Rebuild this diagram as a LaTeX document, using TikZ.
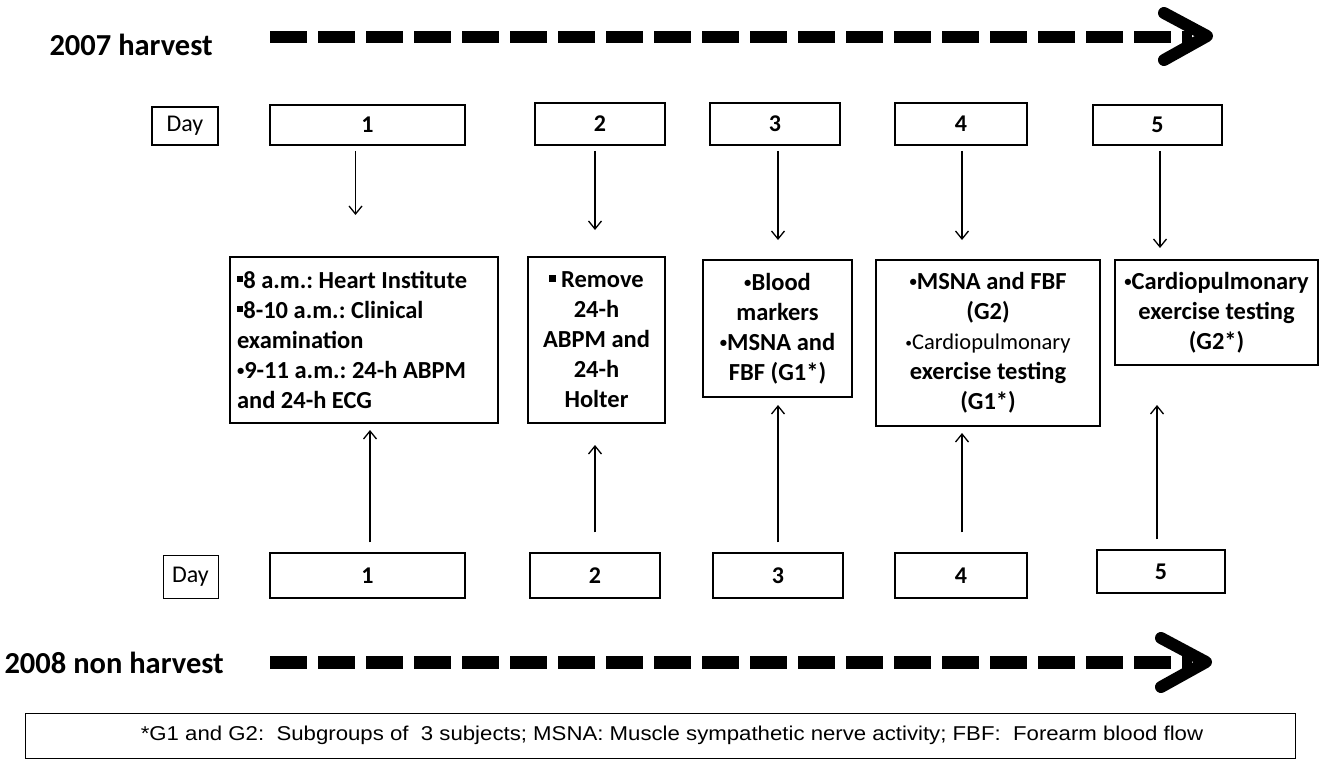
\documentclass[tikz,border=0pt]{standalone}
\usepackage{fontspec}
\setmainfont{Carlito}
\newfontfamily\arialf{Liberation Sans}
\usetikzlibrary{arrows.meta}
\newcommand{\sqb}{\raisebox{0.25em}{\rule{0.26em}{0.26em}}}
\newcommand{\bul}{\raisebox{0.12em}{\scalebox{0.6}{•}}}
\begin{document}
\frenchspacing
\begin{tikzpicture}[x=1pt,y=-1pt,
  daybox/.style={draw,line width=1.5pt,inner sep=0pt,font=\fontsize{24}{26}\selectfont\bfseries},
  cbox/.style={draw,line width=1.6pt,inner sep=6pt,align=center,font=\fontsize{24.5}{30}\selectfont\bfseries},
  arr/.style={line width=1.3pt,-{Straight Barb[length=8pt,width=13pt,line width=1.3pt]}},
  bigdash/.style={line width=12pt,dash pattern=on 37pt off 11pt},
  chev/.style={line width=12pt,line cap=round,line join=round},
  yearlbl/.style={font=\fontsize{30.5}{32}\selectfont\bfseries,anchor=west}]
\useasboundingbox (0,0) rectangle (1324,768);
% year labels and timelines
\node[yearlbl] (y07) at (46,45) {2007 harvest};
\node[yearlbl] (y08) at (1,663) {2008 non harvest};
\coordinate (ts) at (270,37);
\coordinate (te) at (1192,37);
\draw[bigdash] (ts) -- (te);
\draw[chev] (1164,13) -- (1207,36) -- (1164,60);
\coordinate (bs) at (270,662);
\coordinate (be) at (1192,662);
\draw[bigdash,line width=13pt] (bs) -- (be);
\draw[chev] (1161,638) -- (1206,662) -- (1161,687);
% top day boxes
\node[daybox,font=\fontsize{24}{26}\selectfont,minimum width=66pt,minimum height=38pt] (tday) at (185,126) {Day};
\node[daybox,minimum width=195pt,minimum height=40pt] (t1) at (367.5,125) {1};
\node[daybox,minimum width=130pt,minimum height=42pt] (t2) at (600,124) {2};
\node[daybox,minimum width=130pt,minimum height=42pt] (t3) at (775,124) {3};
\node[daybox,minimum width=132pt,minimum height=42pt] (t4) at (961,124) {4};
\node[daybox,minimum width=129pt,minimum height=40pt] (t5) at (1157.5,125) {5};
% bottom day boxes
\node[daybox,line width=1pt,font=\fontsize{24}{26}\selectfont,minimum width=55pt,minimum height=43pt] (bday) at (190.5,576.5) {Day};
\node[daybox,minimum width=195pt,minimum height=45pt] (b1) at (367.5,575.5) {1};
\node[daybox,minimum width=130pt,minimum height=45pt] (b2) at (595,575.5) {2};
\node[daybox,minimum width=130pt,minimum height=45pt] (b3) at (778,575.5) {3};
\node[daybox,minimum width=132pt,minimum height=45pt] (b4) at (961,575.5) {4};
\node[daybox,minimum width=128pt,minimum height=43pt] (b5) at (1161,571.5) {5};
% content boxes
\node[cbox,align=flush left,text width=254pt,minimum width=268pt,minimum height=166pt] (c1) at (364,340)
 {\sqb8 a.m.: Heart Institute\\\sqb8-10 a.m.: Clinical\\examination\\\bul9-11 a.m.: 24-h ABPM\\and 24-h ECG};
\node[cbox,minimum width=137pt,minimum height=166pt] (c2) at (596.5,340)
 {\sqb{} Remove\\24-h\\ABPM and\\24-h\\Holter};
\node[cbox,minimum width=149pt,minimum height=137pt] (c3) at (777.5,328.5)
 {\bul Blood\\markers\\\bul MSNA and\\FBF (G1*)};
\node[cbox,minimum width=224pt,minimum height=166pt] (c4) at (988,343)
 {\bul MSNA and FBF\\(G2)\\{\fontsize{22.5}{30}\selectfont\mdseries \bul Cardiopulmonary}\\exercise testing\\(G1*)};
\node[cbox,minimum width=203pt,minimum height=105pt] (c5) at (1216.5,312.5)
 {\bul Cardiopulmonary\\exercise testing\\(G2*)};
% footer
\node[draw,line width=1pt,minimum width=1270pt,minimum height=45pt,inner sep=0pt,font=\arialf\fontsize{20}{22}\selectfont] (foot) at (660,735.5)
 {\hspace*{24pt}\scalebox{1.11}[1]{*G1 and G2:\ \ Subgroups of\ \ 3 subjects; MSNA:\ Muscle sympathetic nerve activity; FBF:\ \ Forearm blood flow}};
% down arrows
\draw[arr] (t1.south) ++(-12,5) coordinate (d1s) -- (d1s |- 0,215) coordinate (d1e);
\draw[arr] (t2.south) ++(-5,5) coordinate (d2s) -- (d2s |- 0,230);
\draw[arr] (t3.south) ++(3,5) coordinate (d3s) -- (d3s |- 0,240);
\draw[arr] (t4.south) ++(1,5) coordinate (d4s) -- (d4s |- 0,240);
\draw[arr] (t5.south) ++(2.5,5) coordinate (d5s) -- (d5s |- 0,248);
% up arrows
\draw[arr] (b1.north) ++(2.5,-10) coordinate (u1s) -- (u1s |- 0,430);
\draw[arr] (b2.north) ++(0,-20) coordinate (u2s) -- (u2s |- 0,445);
\draw[arr] (b3.north) ++(0,-10) coordinate (u3s) -- (u3s |- 0,405);
\draw[arr] (b4.north) ++(1,-20) coordinate (u4s) -- (u4s |- 0,433);
\draw[arr] (b5.north) ++(-4,-10) coordinate (u5s) -- (u5s |- 0,405);
\end{tikzpicture}
\end{document}
